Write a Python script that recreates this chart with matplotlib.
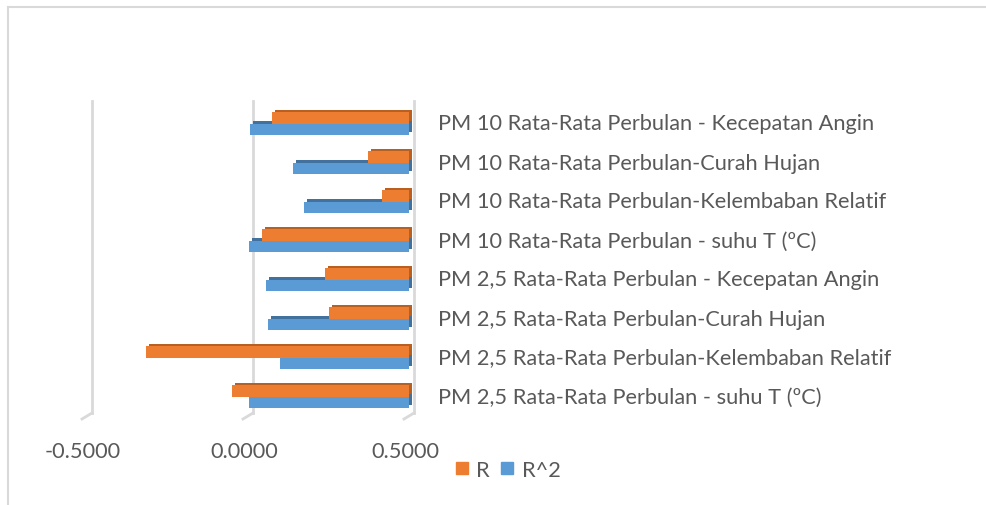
import matplotlib
matplotlib.use("Agg")
import matplotlib.pyplot as plt
import matplotlib.transforms as mtransforms
from matplotlib.lines import Line2D

categories = [
    "PM 2,5 Rata-Rata Perbulan - suhu T (\u00baC)",
    "PM 2,5 Rata-Rata Perbulan-Kelembaban Relatif",
    "PM 2,5 Rata-Rata Perbulan-Curah Hujan",
    "PM 2,5 Rata-Rata Perbulan - Kecepatan Angin",
    "PM 10 Rata-Rata Perbulan - suhu T (\u00baC)",
    "PM 10 Rata-Rata Perbulan-Kelembaban Relatif",
    "PM 10 Rata-Rata Perbulan-Curah Hujan",
    "PM 10 Rata-Rata Perbulan - Kecepatan Angin",
]
r_values = [-0.050, -0.317, 0.252, 0.239, 0.044, 0.416, 0.373, 0.074]
r2_values = [0.0025, 0.100, 0.063, 0.057, 0.002, 0.173, 0.139, 0.0055]
x_ticks = [-0.5, 0.0, 0.5]

plt.rcParams['font.family'] = ['Lato', 'DejaVu Sans']
plt.rcParams['axes.unicode_minus'] = False
text_color = '#595959'
grid_color = '#D9D9D9'
orange, orange_dark = '#ED7D31', '#B85F22'
blue, blue_dark = '#5B9BD5', '#41719C'
fs = 15.7

fig = plt.figure(figsize=(9.87, 5.06), dpi=100)
ax = fig.add_axes([87 / 987, 1 - 417 / 506, 322 / 987, 312 / 506])
ax.set_xlim(-0.5, 0.5)
ax.set_ylim(-0.5, len(categories) - 0.5)
for s in ax.spines.values():
    s.set_visible(False)


def shift(dx, dy):
    return ax.transData + mtransforms.ScaledTranslation(dx / 100, dy / 100, fig.dpi_scale_trans)


# 3D walls: back gridlines and slanted floor marks
back = mtransforms.blended_transform_factory(ax.transData, ax.transAxes) + \
    mtransforms.ScaledTranslation(5 / 100, 3 / 100, fig.dpi_scale_trans)
front = mtransforms.blended_transform_factory(ax.transData, ax.transAxes) + \
    mtransforms.ScaledTranslation(-5 / 100, -3 / 100, fig.dpi_scale_trans)
for xv in x_ticks:
    ax.plot([xv, xv], [0, 1], color=grid_color, lw=2, transform=back, clip_on=False, zorder=0)
    p0 = back.transform((xv, 0))
    p1 = front.transform((xv, 0))
    ax.add_line(Line2D([p0[0], p1[0]], [p0[1], p1[1]], color=grid_color, lw=2,
                       transform=None, clip_on=False, zorder=0))

y = list(range(len(categories)))
h = 0.29
base = 0.5
r_w = [v - base for v in r_values]
r2_w = [v - base for v in r2_values]
y_r = [i + h / 2 for i in y]
y_r2 = [i - h / 2 for i in y]

# depth faces
for bars in (ax.barh(y_r2, r2_w, height=h, left=base, color=blue_dark, transform=shift(3, 2.5), zorder=1),
             ax.barh(y_r, r_w, height=h, left=base, color=orange_dark, transform=shift(3, 2.5), zorder=1)):
    for b in bars:
        b.set_clip_on(False)
# front faces
ax.barh(y_r2, r2_w, height=h, left=base, color=blue, zorder=2, label='R^2')
ax.barh(y_r, r_w, height=h, left=base, color=orange, zorder=3, label='R')

ax.set_xticks(x_ticks)
ax.set_xticklabels([f"{v:.4f}" for v in x_ticks])
ax.tick_params(axis='x', length=0, pad=18, labelsize=fs, labelcolor=text_color)
for lab in ax.get_xticklabels():
    lab.set_transform(lab.get_transform() + mtransforms.ScaledTranslation(-4 / 100, 0, fig.dpi_scale_trans))

ax.yaxis.tick_right()
ax.set_yticks(y)
ax.set_yticklabels(categories)
ax.tick_params(axis='y', length=0, pad=21, labelsize=fs, labelcolor=text_color)
for lab in ax.get_yticklabels():
    lab.set_transform(lab.get_transform() + mtransforms.ScaledTranslation(0, 2 / 100, fig.dpi_scale_trans))

handles = [
    Line2D([], [], marker='s', ls='none', markersize=9, color=orange, label='R'),
    Line2D([], [], marker='s', ls='none', markersize=9, color=blue, label='R^2'),
]
fig.legend(handles=handles, loc='center', bbox_to_anchor=(508 / 987, 1 - 471 / 506), ncol=2,
           frameon=False, fontsize=fs, labelcolor=text_color, handlelength=0.6,
           handletextpad=0.35, columnspacing=0.5)

# chart area border (left and top edges visible)
fig.add_artist(Line2D([8 / 987, 8 / 987], [0, 1 - 8 / 506], color=grid_color, lw=1.5))
fig.add_artist(Line2D([8 / 987, 1], [1 - 8 / 506, 1 - 8 / 506], color=grid_color, lw=1.5))

fig.savefig("out.png", dpi=100)
